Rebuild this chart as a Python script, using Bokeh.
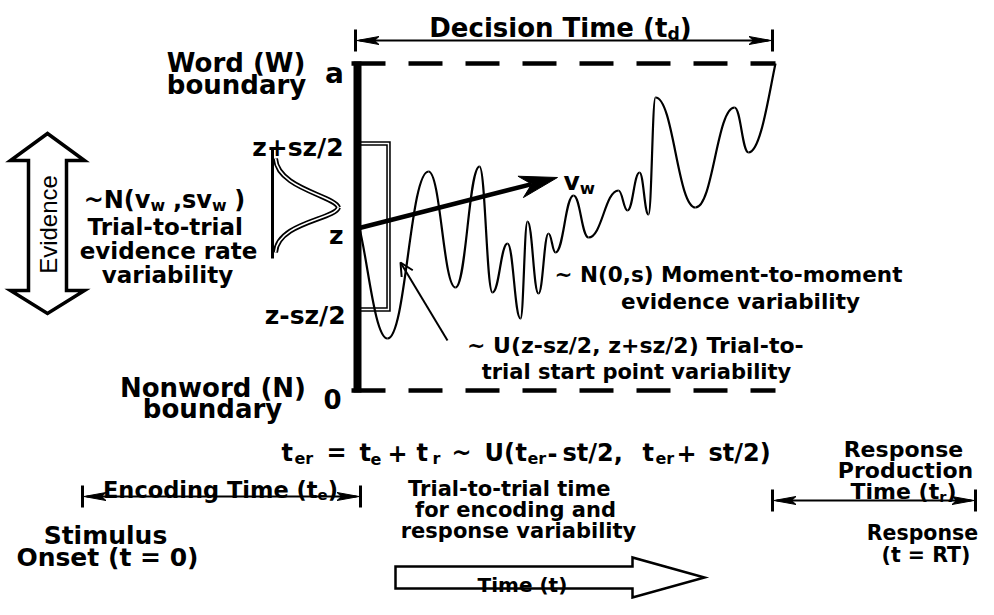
import math
from bokeh.plotting import figure
from bokeh.models import Range1d, ColumnDataSource, Arrow, OpenHead
from bokeh.embed import file_html
from bokeh.resources import INLINE
from bokeh.core.properties import value

# ---------------- values ----------------
BOUNDARY_A = 63          # y of the word boundary "a"
BOUNDARY_0 = 390         # y of the nonword boundary "0"
START_Z = 228            # starting point z
SZ_TOP = 143             # z + sz/2
SZ_BOT = 309             # z - sz/2
T_START = 357            # start of the decision process (x)
T_END = 775              # end of the decision time (x)

# one sample path of the diffusion process: successive peaks and troughs
PATH_X = [359, 387, 428, 455, 479, 492, 507, 520, 527, 538, 548, 555, 573,
          588, 618, 627, 639, 648, 655, 695, 734, 748, 775]
PATH_Y = [228, 338, 171, 287, 166, 292, 243, 318, 221, 293, 233, 252, 195,
          237, 190, 210, 172, 214, 97, 207, 107, 152, 63]

# drift-rate arrow end
DRIFT_X, DRIFT_Y = 557, 177

# gaussian of drift across trials (vertical axis, peak, tails)
GAUSS_AXIS_X = 272
GAUSS_TOP, GAUSS_PEAK, GAUSS_BOT = 158, 207, 252
GAUSS_BASE_X, GAUSS_PEAK_X = 275, 338

# time intervals (x from, x to, y)
DECISION_SPAN = (355, 772, 40)
ENCODING_SPAN = (82, 360, 496)
RESPONSE_SPAN = (772, 975, 500)

# texts
LBL_WORD = ["Word (W)", "boundary"]
LBL_NONWORD = ["Nonword (N)", "boundary"]
LBL_RATE = ["Trial-to-trial", "evidence rate", "variability"]
LBL_MOMENT = ["~ N(0,s) Moment-to-moment", "evidence variability"]
LBL_START = ["~ U(z-sz/2, z+sz/2) Trial-to-", "trial start point variability"]
LBL_TER = ["Trial-to-trial time", "for encoding and", "response variability"]
LBL_STIM = ["Stimulus", "Onset (t = 0)"]
LBL_RESP = ["Response", "(t = RT)"]
LBL_PROD = ["Response", "Production"]
# t_er = t_e + t_r ~ U(t_er - st/2, t_er + st/2): (token, left x, is subscript)
EQ_TOKENS = [("t", 281, 0), ("er", 294, 1), ("=", 326, 0), ("t", 359, 0), ("e", 370, 1),
             ("+", 387, 0), ("t", 416, 0), ("r", 432, 1), ("~", 451, 0), ("U(", 484, 0),
             ("t", 515, 0), ("er", 527, 1), ("-", 547, 0), ("st/2,", 562, 0), ("t", 642, 0),
             ("er", 655, 1), ("+", 676, 0), ("st/2)", 708, 0)]

# ---------------- figure ----------------
p = figure(width=978, height=599, x_range=Range1d(0, 978), y_range=Range1d(599, 0),
           x_axis_type=None, y_axis_type=None, output_backend="svg",
           toolbar_location=None, min_border=0)
p.grid.visible = False
p.outline_line_color = None
p.background_fill_color = "white"
p.border_fill_color = "white"

BLACK = "black"
FONT = value("DejaVu Sans")

# ---- text helper (DejaVu Sans Bold advance widths, 1/2048 em) ----
ADV = {' ': 713, '(': 938, ')': 938, '+': 1716, ',': 780, '-': 852, '/': 747,
       '0': 1425, '2': 1425, '=': 1716, '~': 1716,
       'D': 1714, 'E': 1399, 'M': 2038, 'N': 1714, 'O': 1741, 'P': 1499,
       'R': 1591, 'S': 1483, 'T': 1399, 'U': 1663, 'W': 2253,
       'a': 1382, 'b': 1466, 'c': 1212, 'd': 1466, 'e': 1389, 'f': 891,
       'g': 1466, 'h': 1458, 'i': 702, 'l': 702, 'm': 2134, 'n': 1458,
       'o': 1407, 'p': 1466, 'r': 1010, 's': 1219, 't': 979, 'u': 1458,
       'v': 1335, 'w': 1817, 'y': 1335, 'z': 1188}


def tw(s, size):
    return sum(ADV.get(c, 1300) for c in s) / 2048.0 * size


TX, TY, TT, TS = [], [], [], []
SUB = 0.66


def put(t, x, y, sz):
    lead = len(t) - len(t.lstrip(" "))
    TX.append(x + tw(" " * lead, sz))
    TY.append(y)
    TT.append(t.strip(" "))
    TS.append("%.1fpx" % sz)


def rich(parts, x, y, size, align="center"):
    if isinstance(parts, str):
        parts = [(parts, 0)]
    total = sum(tw(t, size * (SUB if s else 1)) for t, s in parts)
    cx = x - total / 2 if align == "center" else (x - total if align == "right" else x)
    for t, s in parts:
        sz = size * (SUB if s else 1)
        put(t, cx, y + (0.26 * size if s else 0), sz)
        cx += tw(t, sz)


# ---- Evidence double arrow ----
ev_x = [47, 84, 66, 66, 84, 47, 10, 28, 28, 10]
ev_y = [133, 160, 160, 290, 290, 313, 290, 290, 160, 160]
p.patch(ev_x, ev_y, fill_color="white", line_color=BLACK, line_width=3.5, line_join="miter")
p.text([48], [224], text=["Evidence"], angle=math.pi / 2, text_align="center",
       text_baseline="middle", text_font=value("Liberation Sans"),
       text_font_size="24px", text_color=BLACK)

# ---- Time arrow ----
tm_x = [395, 632, 632, 704, 632, 632, 395]
tm_y = [566, 566, 557, 577, 597, 588, 588]
p.patch(tm_x, tm_y, fill_color="white", line_color=BLACK, line_width=2.5, line_join="miter")

# ---- gaussian (double line) ----
g_x0 = [GAUSS_BASE_X, GAUSS_PEAK_X]
g_y0 = [GAUSS_TOP, GAUSS_PEAK]
g_x1 = [GAUSS_PEAK_X, GAUSS_BASE_X]
g_y1 = [GAUSS_PEAK, GAUSS_BOT]
g_cx0 = [GAUSS_BASE_X + 2, GAUSS_PEAK_X - 4]
g_cy0 = [GAUSS_TOP + 30, GAUSS_PEAK + 12]
g_cx1 = [GAUSS_PEAK_X - 4, GAUSS_BASE_X + 2]
g_cy1 = [GAUSS_PEAK - 12, GAUSS_BOT - 30]
p.bezier(g_x0, g_y0, g_x1, g_y1, g_cx0, g_cy0, g_cx1, g_cy1, line_color=BLACK, line_width=5)
p.bezier(g_x0, g_y0, g_x1, g_y1, g_cx0, g_cy0, g_cx1, g_cy1, line_color="white", line_width=1.6)
p.line([GAUSS_AXIS_X, GAUSS_AXIS_X], [147, 258], line_color=BLACK, line_width=3)

# ---- start point box (double line) ----
bx = [T_START + 3, 388, 388, T_START + 3]
by = [SZ_TOP, SZ_TOP, SZ_BOT, SZ_BOT]
p.line(bx, by, line_color=BLACK, line_width=4.5, line_join="miter")
p.line(bx, by, line_color="white", line_width=1.4, line_join="miter")

# ---- sample path as smooth bezier segments ----
k = 0.45
x0, y0, x1, y1, cx0, cy0, cx1, cy1 = [], [], [], [], [], [], [], []
n = len(PATH_X)
for i in range(n - 1):
    ax, ay, bx_, by_ = PATH_X[i], PATH_Y[i], PATH_X[i + 1], PATH_Y[i + 1]
    dx, dy = bx_ - ax, by_ - ay
    x0.append(ax); y0.append(ay); x1.append(bx_); y1.append(by_)
    if i == 0:
        cx0.append(ax + 0.3 * dx); cy0.append(ay + 0.3 * dy)
    else:
        cx0.append(ax + k * dx); cy0.append(ay)
    if i == n - 2:
        cx1.append(bx_ - 0.25 * dx); cy1.append(by_ - 0.35 * dy)
    else:
        cx1.append(bx_ - k * dx); cy1.append(by_)
p.bezier(x0, y0, x1, y1, cx0, cy0, cx1, cy1, line_color=BLACK, line_width=2.2)

# ---- boundaries ----
p.line([351, T_END], [BOUNDARY_A, BOUNDARY_A], line_color=BLACK, line_width=4.5, line_dash="34 23")
p.line([351, T_END], [BOUNDARY_0, BOUNDARY_0], line_color=BLACK, line_width=4.5, line_dash="34 23")
p.line([T_START, T_START], [BOUNDARY_A - 2, BOUNDARY_0 + 2], line_color=BLACK, line_width=8)


# ---- arrow heads ----
HX, HY = [], []


def head(tx, ty, fx, fy, L, Wd, notch=0.25):
    d = math.hypot(tx - fx, ty - fy)
    ux, uy = (tx - fx) / d, (ty - fy) / d
    px, py = -uy, ux
    bxx, byy = tx - ux * L, ty - uy * L
    nx, ny = tx - ux * L * (1 - notch), ty - uy * L * (1 - notch)
    HX.append([tx, bxx + px * Wd / 2, nx, bxx - px * Wd / 2])
    HY.append([ty, byy + py * Wd / 2, ny, byy - py * Wd / 2])


# drift arrow
dL = 38
dd = math.hypot(DRIFT_X - T_START, DRIFT_Y - START_Z)
p.line([T_START, DRIFT_X - (DRIFT_X - T_START) / dd * dL * 0.7],
       [START_Z, DRIFT_Y - (DRIFT_Y - START_Z) / dd * dL * 0.7], line_color=BLACK, line_width=4.5)
head(DRIFT_X, DRIFT_Y, T_START, START_Z, dL, 22, notch=0.3)

# time spans
for (xa, xb, yy) in [DECISION_SPAN, ENCODING_SPAN, RESPONSE_SPAN]:
    p.line([xa + 4, xb - 4], [yy, yy], line_color=BLACK, line_width=2.2)
    p.line([xa, xa], [yy - 11, yy + 11], line_color=BLACK, line_width=3)
    p.line([xb, xb], [yy - 11, yy + 11], line_color=BLACK, line_width=3)
    head(xa + 1.5, yy, xb, yy, 22, 8, notch=0.2)
    head(xb - 1.5, yy, xa, yy, 22, 8, notch=0.2)

p.patches(HX, HY, fill_color=BLACK, line_color=BLACK, line_width=1)

# annotation arrow to start point variability
p.add_layout(Arrow(x_start=447, y_start=340, x_end=400, y_end=262, line_width=2,
                   line_color=BLACK, end=OpenHead(size=13, line_width=2, line_color=BLACK)))

# ---- texts ----
rich([("Decision Time (t", 0), ("d", 1), (")", 0)], 560, 27, 26)
rich(LBL_WORD[0], 236, 62, 26)
rich(LBL_WORD[1], 236, 84, 26)
rich(LBL_NONWORD[0], 212, 387, 26)
rich(LBL_NONWORD[1], 212, 408, 26)
rich("a", 334, 73, 28)
rich("0", 332, 398, 26)
rich("z+sz/2", 343, 147, 25, "right")
rich("z", 343, 235, 25, "right")
rich("z-sz/2", 345, 315, 25, "right")
rich([("~N(v", 0), ("w", 1), (" ,sv", 0), ("w", 1), (" )", 0)], 164, 199, 24)
rich(LBL_RATE[0], 166, 226, 23)
rich(LBL_RATE[1], 168, 250, 23)
rich(LBL_RATE[2], 167, 274, 23)
rich([("v", 0), ("w", 1)], 563, 181, 25, "left")
rich(LBL_MOMENT[0], 728, 274, 21.5)
rich(LBL_MOMENT[1], 740, 301, 21.5)
rich(LBL_START[0], 636, 345, 22)
rich(LBL_START[1], 636, 371, 21)
for tok, tx0, sub in EQ_TOKENS:
    put(tok, tx0, 458 if sub else 452, 16 if sub else 24)
rich(LBL_TER[0], 510, 488, 21)
rich(LBL_TER[1], 515, 509, 21)
rich(LBL_TER[2], 518, 530, 21)
rich([("Encoding Time (t", 0), ("e", 1), (")", 0)], 220, 489, 22.5)
rich(LBL_STIM[0], 105, 535, 25)
rich(LBL_STIM[1], 107, 557, 25)
rich(LBL_PROD[0], 903, 449, 22)
rich(LBL_PROD[1], 905, 470, 22)
rich([("Time (t", 0), ("r", 1), (")", 0)], 903, 491, 22)
rich(LBL_RESP[0], 922, 532, 20.5)
rich(LBL_RESP[1], 926, 554, 20.5)
rich("Time (t)", 522, 584, 20)

src = ColumnDataSource(dict(x=TX, y=TY, text=TT, size=TS))
p.text(x="x", y="y", text="text", source=src, text_font=FONT, text_font_style="bold",
       text_font_size="size", text_align="left", text_baseline="alphabetic", text_color=BLACK)

open("out.html", "w").write(file_html(p, INLINE))
